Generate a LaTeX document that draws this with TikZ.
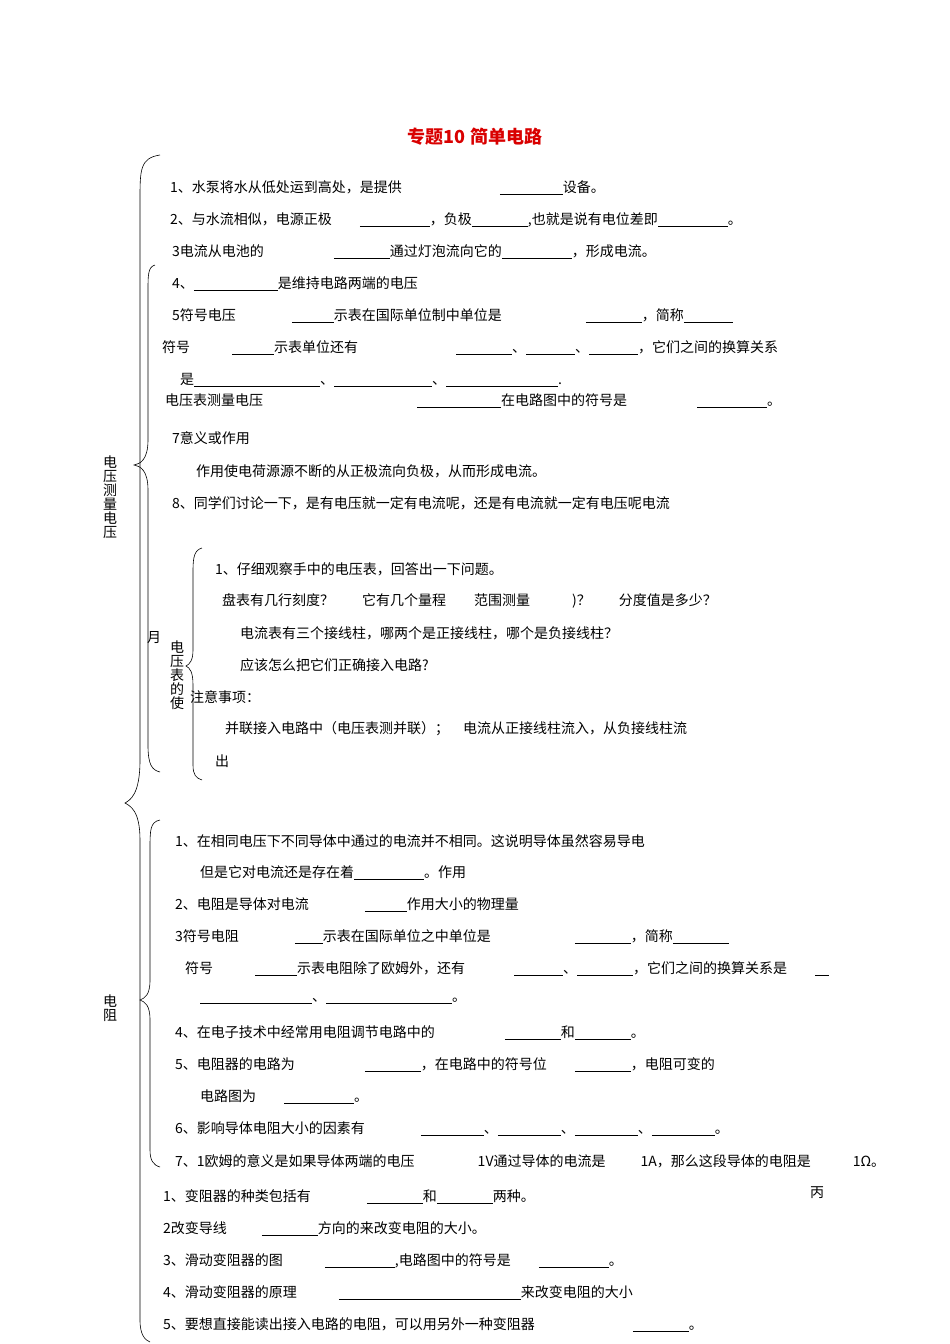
\documentclass[tikz,border=0pt]{standalone}
\usepackage{fontspec}
\newfontfamily\cjk{Noto Sans CJK SC}
\begin{document}
\begin{tikzpicture}[x=1pt,y=-1pt,
  t/.style={anchor=west,inner sep=0pt,font=\cjk\fontsize{14}{14}\selectfont},
  br/.style={draw,line width=0.6pt}]
\useasboundingbox (0,0) rectangle (950,1344);
\node[font=\cjk\bfseries\fontsize{18}{18}\selectfont,text=red!85!black] (title) at (475,137) {专题10\ 简单电路};
% braces
\draw[br] (155,265) .. controls (148,267) and (148,275) .. (148,290) -- (148,440) .. controls (148,460) and (140,464) .. (134,465) .. controls (140,466) and (148,470) .. (148,490) -- (148,745) .. controls (148,765) and (152,770) .. (160,772);
\draw[br] (160,155) .. controls (140,158) and (140,170) .. (140,200) -- (140,760) .. controls (140,795) and (130,800) .. (125,803) .. controls (130,806) and (140,810) .. (140,840) -- (140,1320) .. controls (140,1335) and (145,1340) .. (150,1342);
\draw[br] (160,820) .. controls (150,822) and (150,830) .. (150,850) -- (150,980) .. controls (150,995) and (145,998) .. (140,1000) .. controls (145,1002) and (150,1005) .. (150,1020) -- (150,1150) .. controls (150,1160) and (153,1165) .. (160,1167);
\draw[br] (202,548) .. controls (195,550) and (193,556) .. (193,570) -- (193,650) .. controls (193,660) and (190,664) .. (186,666) .. controls (190,668) and (193,672) .. (193,685) -- (193,765) .. controls (193,775) and (196,778) .. (202,780);
% side labels
\node[t,anchor=center,align=center] (v1) at (110,497) {电\\压\\测\\量\\电\\压};
\node[t,anchor=center,align=center] (v2) at (177,675) {电\\压\\表\\的\\使};
\node[t] (v3) at (147,638) {月};
\node[t,anchor=center,align=center] (r1) at (110,1008) {电\\阻};
% lines
\node[t] at (170,188) {1、水泵将水从低处运到高处，是提供\hspace{7em}\underline{\hspace{4.5em}}设备。};
\node[t] at (170,220) {2、与水流相似，电源正极\hspace{2em}\underline{\hspace{5em}}，负极\underline{\hspace{4em}},也就是说有电位差即\underline{\hspace{5em}}。};
\node[t] at (172,252) {3电流从电池的\hspace{5em}\underline{\hspace{4em}}通过灯泡流向它的\underline{\hspace{5em}}，形成电流。};
\node[t] at (172,284) {4、\underline{\hspace{6em}}是维持电路两端的电压};
\node[t] at (172,316) {5符号电压\hspace{4em}\underline{\hspace{3em}}示表在国际单位制中单位是\hspace{6em}\underline{\hspace{4em}}，简称\underline{\hspace{3.5em}}};
\node[t] at (162,348) {符号\hspace{3em}\underline{\hspace{3em}}示表单位还有\hspace{7em}\underline{\hspace{4em}}、\underline{\hspace{3.5em}}、\underline{\hspace{3.5em}}，它们之间的换算关系};
\node[t] at (180,380) {是\underline{\hspace{9em}}、\underline{\hspace{7em}}、\underline{\hspace{8em}}.};
\node[t] at (165,401) {电压表测量电压\hspace{11em}\underline{\hspace{6em}}在电路图中的符号是\hspace{5em}\underline{\hspace{5em}}。};
\node[t] at (172,438) {7意义或作用};
\node[t] at (196,471) {作用使电荷源源不断的从正极流向负极，从而形成电流。};
\node[t] at (172,503) {8、同学们讨论一下，是有电压就一定有电流呢，还是有电流就一定有电压呢电流};
\node[t] at (215,569) {1、仔细观察手中的电压表，回答出一下问题。};
\node[t] at (222,601) {盘表有几行刻度？\hspace{2em}它有几个量程\hspace{2em}范围测量\hspace{3em})？\hspace{2em}分度值是多少？};
\node[t] at (240,633) {电流表有三个接线柱，哪两个是正接线柱，哪个是负接线柱？};
\node[t] at (240,665) {应该怎么把它们正确接入电路?};
\node[t] at (190,697) {注意事项：};
\node[t] at (225,729) {并联接入电路中（电压表测并联）；\hspace{1em}电流从正接线柱流入，从负接线柱流};
\node[t] at (215,761) {出};
\node[t] at (175,841) {1、在相同电压下不同导体中通过的电流并不相同。这说明导体虽然容易导电};
\node[t] at (200,873) {但是它对电流还是存在着\underline{\hspace{5em}}。作用};
\node[t] at (175,905) {2、电阻是导体对电流\hspace{4em}\underline{\hspace{3em}}作用大小的物理量};
\node[t] at (175,937) {3符号电阻\hspace{4em}\underline{\hspace{2em}}示表在国际单位之中单位是\hspace{6em}\underline{\hspace{4em}}，简称\underline{\hspace{4em}}};
\node[t] at (185,969) {符号\hspace{3em}\underline{\hspace{3em}}示表电阻除了欧姆外，还有\hspace{3.5em}\underline{\hspace{3.5em}}、\underline{\hspace{4em}}，它们之间的换算关系是\hspace{2em}\underline{\hspace{1em}}};
\node[t] at (200,1001) {\underline{\hspace{8em}}、\underline{\hspace{9em}}。};
\node[t] at (175,1033) {4、在电子技术中经常用电阻调节电路中的\hspace{5em}\underline{\hspace{4em}}和\underline{\hspace{4em}}。};
\node[t] at (175,1065) {5、电阻器的电路为\hspace{5em}\underline{\hspace{4em}}，在电路中的符号位\hspace{2em}\underline{\hspace{4em}}，电阻可变的};
\node[t] at (200,1097) {电路图为\hspace{2em}\underline{\hspace{5em}}。};
\node[t] at (175,1129) {6、影响导体电阻大小的因素有\hspace{4em}\underline{\hspace{4.5em}}、\underline{\hspace{4.5em}}、\underline{\hspace{4.5em}}、\underline{\hspace{4.5em}}。};
\node[t] at (175,1161) {7、1欧姆的意义是如果导体两端的电压\hspace{4.5em}1V通过导体的电流是\hspace{2.5em}1A，那么这段导体的电阻是\hspace{3em}1Ω。};
\node[t] at (163,1197) {1、变阻器的种类包括有\hspace{4em}\underline{\hspace{4em}}和\underline{\hspace{4em}}两种。};
\node[t] at (810,1193) {丙};
\node[t] at (163,1229) {2改变导线\hspace{2.5em}\underline{\hspace{4em}}方向的来改变电阻的大小。};
\node[t] at (163,1261) {3、滑动变阻器的图\hspace{3em}\underline{\hspace{5em}},电路图中的符号是\hspace{2em}\underline{\hspace{5em}}。};
\node[t] at (163,1293) {4、滑动变阻器的原理\hspace{3em}\underline{\hspace{13em}}来改变电阻的大小};
\node[t] at (163,1325) {5、要想直接能读出接入电路的电阻，可以用另外一种变阻器\hspace{7em}\underline{\hspace{4em}}。};
\end{tikzpicture}
\end{document}
